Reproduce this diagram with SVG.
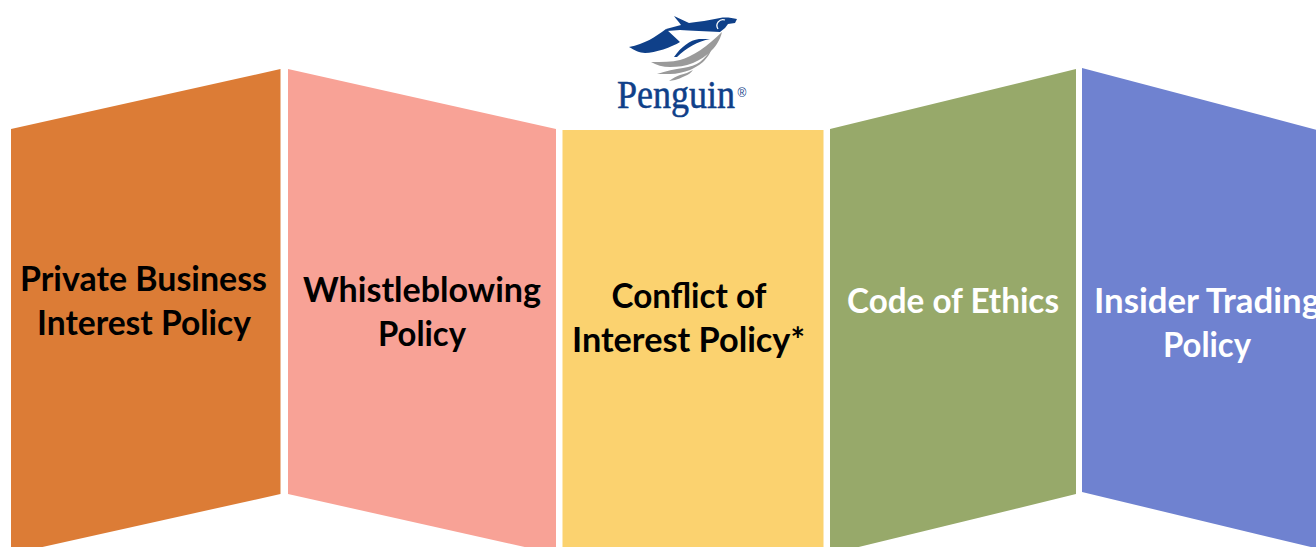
<svg xmlns="http://www.w3.org/2000/svg" width="1316" height="547" viewBox="0 0 1316 547">
<style>
.l{font-family:Lato,"Open Sans",sans-serif;font-weight:700;font-size:34px;text-anchor:middle}
.k{fill:#000}.w{fill:#fff}
.b{fill:#0f4089}.g{fill:#9a9a9a}
</style>
<rect width="1316" height="547" fill="#fff"/>
<g id="node-private">
<polygon points="11,129 280.500,69 280.500,494 11,554" fill="#dc7c36"/>
<text class="l k" x="143.500" y="291" textLength="247" lengthAdjust="spacingAndGlyphs">Private Business</text>
<text class="l k" x="144" y="335" textLength="214" lengthAdjust="spacingAndGlyphs">Interest Policy</text>
</g>
<g id="node-whistle">
<polygon points="288,69 556,129 556,554 288,494" fill="#f8a296"/>
<text class="l k" x="422" y="302" textLength="238" lengthAdjust="spacingAndGlyphs">Whistleblowing</text>
<text class="l k" x="422" y="346" textLength="88" lengthAdjust="spacingAndGlyphs">Policy</text>
</g>
<g id="node-conflict">
<rect x="562.500" y="130" width="261" height="424" fill="#fbd26f"/>
<text class="l k" x="689" y="308" textLength="155" lengthAdjust="spacingAndGlyphs">Conflict of</text>
<text class="l k" x="688.500" y="352" textLength="233" lengthAdjust="spacingAndGlyphs">Interest Policy*</text>
</g>
<g id="node-ethics">
<polygon points="830,129 1076,69 1076,494 830,554" fill="#97a96a"/>
<text class="l w" x="953" y="313" textLength="212" lengthAdjust="spacingAndGlyphs">Code of Ethics</text>
</g>
<g id="node-insider">
<polygon points="1082,68 1340,136 1340,554 1082,492" fill="#6f82d0"/>
<text class="l w" x="1207" y="313" textLength="226" lengthAdjust="spacingAndGlyphs">Insider Trading</text>
<text class="l w" x="1207" y="357" textLength="88" lengthAdjust="spacingAndGlyphs">Policy</text>
</g>
<g id="logo">
<path class="b" d="M629,47 C645,44 655,37 666,29 L680,42 C672,47 655,53 645,53 C640,53 634,50 629,47 Z"/>
<path class="b" d="M666,29 L681,25 C679,22 676,19 674,16 L689,23 C698,22 710,20 720,18 C726,17 732,18 737,19 L735,23 L728,24 L725,28 L720,32 C707,31 690,31 680,30 L667,31 Z"/>
<path d="M718,29 A6,6 0 0 1 725,20" fill="none" stroke="#fff" stroke-width="1.300"/>
<path class="b" d="M674,57 C681,47 690,40 699,39 L710,39 C698,41 686,48 677,57 Z"/>
<path class="g" d="M651,62 C662,62 672,62 680,60 C692,57 708,46 722,32 C720,40 716,46 712,50 C706,56 700,60 693,63 C685,66 678,67 670,67 C663,67 656,65 651,62 Z"/>
<path class="g" d="M657,74 C666,71 675,69 683,68 C690,67 696,65 700,62 C705,58 709,53 712,47 C711,53 707,58 703,62 C698,66 694,68 690,70 C684,72 677,74 670,74 Z"/>
<path class="g" d="M669,81 C673,78 677,76 680,75 C685,74 689,72 693,70 C691,73 688,75 685,76 C681,78 678,79 675,80 Z"/>
<text transform="translate(617,108) scale(1,1.100)" font-family="'Liberation Serif',serif" font-size="36" fill="#0f4089" stroke="#0f4089" stroke-width="0.500">Penguin</text>
<text x="737.500" y="97" font-family="'Liberation Sans',sans-serif" font-size="12" fill="#0f4089">®</text>
</g>
</svg>
